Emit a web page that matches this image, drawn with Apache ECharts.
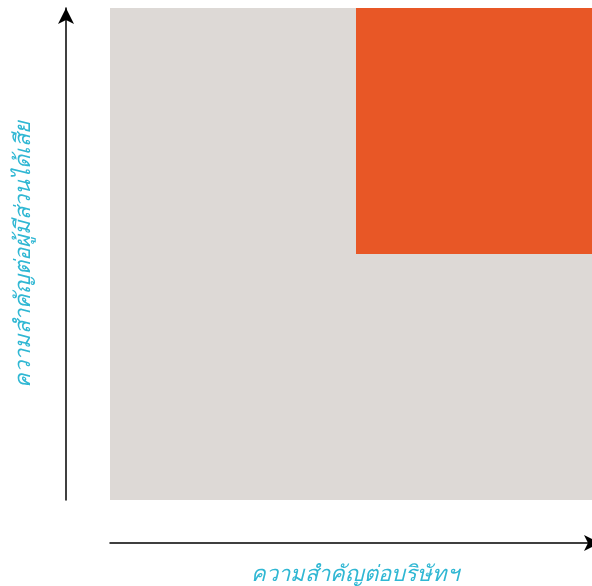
<!DOCTYPE html>
<html><head><meta charset="utf-8">
<script src="https://cdn.jsdelivr.net/npm/echarts@6/dist/echarts.min.js"></script>
<style>html,body{margin:0;padding:0;background:#fff}#c{width:592px;height:586px}</style>
</head><body><div id="c"></div>
<script>
// quadrant cells: [xStart, yStart, xEnd, yEnd]
const cellNames = ['background', 'highPriority'];
const cellRanges = [[0, 0, 2, 2], [1, 1, 2, 2]];
const cellColors = ['#ddd9d6', '#e85726'];
const xAxisTitle = 'ความสำคัญต่อบริษัทฯ';
const yAxisTitle = 'ความสำคัญต่อผู้มีส่วนได้เสีย';

const chart = echarts.init(document.getElementById('c'));
const data = cellRanges.map((r, i) => ({ name: cellNames[i], value: r, itemStyle: { color: cellColors[i] } }));
const nameStyle = { color: '#2fb7d3', fontSize: 22, fontStyle: 'italic', fontFamily: 'sans-serif' };
const hidden = { show: false };
const lineAxis = {
  axisLine: { show: true, lineStyle: { color: '#000', width: 1.5 }, symbol: ['none', 'arrow'], symbolSize: [12, 16] },
  axisTick: hidden, axisLabel: hidden, splitLine: hidden
};
chart.setOption({
  animation: false,
  grid: [
    { left: 110, top: 8, width: 492, height: 492, outerBoundsMode: 'none' },
    { left: 110, top: 8, width: 490, height: 535, outerBoundsMode: 'none' },
    { left: 66, top: 8, width: 526, height: 492, outerBoundsMode: 'none' }
  ],
  xAxis: [
    { type: 'value', gridIndex: 0, min: 0, max: 2, show: false },
    Object.assign({ type: 'value', gridIndex: 1, min: 0, max: 2,
      name: xAxisTitle, nameLocation: 'middle', nameGap: 21, nameTextStyle: nameStyle }, lineAxis),
    { type: 'value', gridIndex: 2, min: 0, max: 2, show: false }
  ],
  yAxis: [
    { type: 'value', gridIndex: 0, min: 0, max: 2, show: false },
    { type: 'value', gridIndex: 1, min: 0, max: 2, show: false },
    Object.assign({ type: 'value', gridIndex: 2, min: 0, max: 2,
      name: yAxisTitle, nameLocation: 'middle', nameGap: 31, nameTextStyle: nameStyle }, lineAxis)
  ],
  series: [{
    type: 'custom', xAxisIndex: 0, yAxisIndex: 0, data: data,
    encode: { x: [0, 2], y: [1, 3] },
    renderItem: function (params, api) {
      const p0 = api.coord([api.value(0), api.value(1)]);
      const p1 = api.coord([api.value(2), api.value(3)]);
      return { type: 'rect', shape: { x: p0[0], y: p1[1], width: p1[0] - p0[0], height: p0[1] - p1[1] },
        style: { fill: api.visual('color') } };
    }
  }]
});
</script></body></html>
